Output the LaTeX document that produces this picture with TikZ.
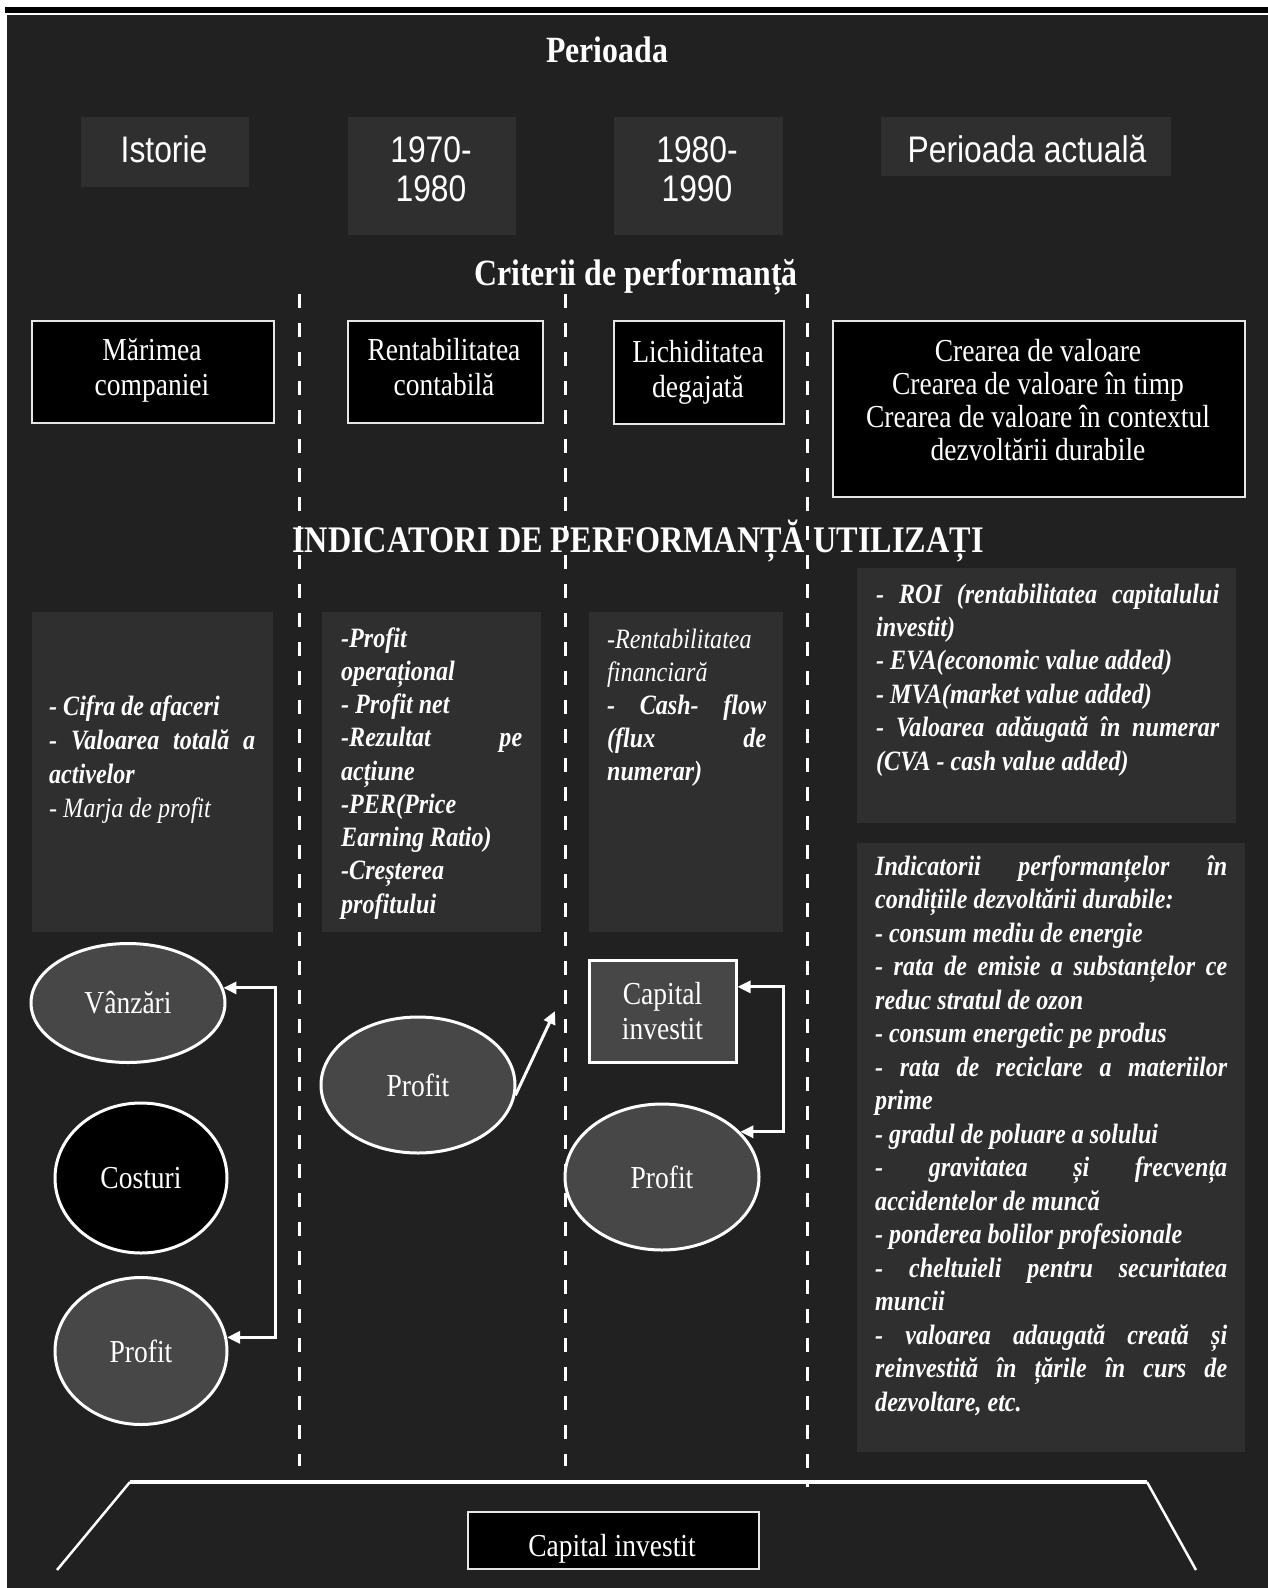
\documentclass[tikz,border=0pt]{standalone}
\usepackage{fontspec}
\usetikzlibrary{shapes.geometric,arrows.meta,calc}
\newfontfamily\srf[FakeStretch=0.86]{Liberation Serif}
\newfontfamily\sns[FakeStretch=0.86]{Liberation Sans}
\definecolor{bg}{HTML}{212121}
\definecolor{panel}{HTML}{2F2F2F}
\definecolor{ellc}{HTML}{474747}
\definecolor{bord}{HTML}{E6E6E6}
\newcommand\fs[2]{\fontsize{#1}{#2}\selectfont}
\newcommand\Ls[1]{\makebox[\linewidth][s]{#1}}
\newcommand\Ll[1]{\makebox[\linewidth][l]{#1}}
\begin{document}
\begin{tikzpicture}[x=1pt,y=-1pt,
  pbox/.style={fill=panel, inner sep=0pt, anchor=north west},
  ptxt/.style={text=white, font=\sns\fs{37}{39}, inner sep=0pt, anchor=base},
  ttl/.style={text=white, font=\srf\bfseries\fs{37}{40}, inner sep=0pt, anchor=base},
  critbox/.style={fill=black, draw=bord, line width=2pt, inner sep=0pt, anchor=north west},
  crtxt/.style={text=white, font=\srf\fs{32}{35}, inner sep=0pt, anchor=base},
  itx/.style={text=white, font=\srf\bfseries\itshape\fs{28}{33.4}, inner sep=0pt, anchor=base west},
  ellnode/.style={ellipse, draw=white, line width=3pt, fill=ellc, text=white, font=\srf\fs{32}{35}, inner sep=0pt},
  arr/.style={draw=white, line width=3pt, {Triangle[length=13pt,width=12pt]}-{Triangle[length=13pt,width=12pt]}},
  arrone/.style={draw=white, line width=3pt, -{Triangle[length=13pt,width=12pt]}},
  vdash/.style={draw=white, line width=3pt, dash pattern=on 14pt off 15pt},
]
\useasboundingbox (0,0) rectangle (1268,1588);
\fill[white] (0,0) rectangle (1268,1588);
\fill[black] (5,7) rectangle (1268,13);
\fill[bg] (7,15) rectangle (1268,1588);

% titles
\node[ttl] (tper) at (607,62) {Perioada};
\node[ttl] (tcrit) at (636,285) {Criterii de performanță};

% period boxes
\node[pbox, minimum width=168pt, minimum height=70pt] (hist) at (81,117) {};
\node[pbox, minimum width=168pt, minimum height=118pt] (p70) at (348,117) {};
\node[pbox, minimum width=169pt, minimum height=118pt] (p80) at (614,117) {};
\node[pbox, minimum width=290pt, minimum height=59pt] (pact) at (881,117) {};
\node[ptxt] (histT) at (164,162) {Istorie};
\node[ptxt] (p70T) at (431,162) {\parbox[t]{150pt}{\centering 1970-\\1980}};
\node[ptxt] (p80T) at (697,162) {\parbox[t]{150pt}{\centering 1980-\\1990}};
\node[ptxt] (pactT) at (1027,162) {Perioada actuală};

% dashed separators
\coordinate (d1t) at (299,294); \coordinate (d1b) at (299,1466);
\coordinate (d2t) at (565,294); \coordinate (d2b) at (565,1466);
\coordinate (d3t) at (807,294); \coordinate (d3b) at (807,1487);
\draw[vdash] (d1t) -- (d1b);
\draw[vdash] (d2t) -- (d2b);
\draw[vdash] (d3t) -- (d3b);

% criteria boxes
\node[critbox, minimum width=242pt, minimum height=102pt] (mar) at (31,320) {};
\node[critbox, minimum width=195pt, minimum height=102pt] (rent) at (347,320) {};
\node[critbox, minimum width=170pt, minimum height=103pt] (lich) at (613,320) {};
\node[critbox, minimum width=412pt, minimum height=176pt] (crea) at (832,320) {};
\node[crtxt] (marT) at (152,360) {\parbox[t]{230pt}{\centering Mărimea\\companiei}};
\node[crtxt] (rentT) at (444,360) {\parbox[t]{190pt}{\centering Rentabilitatea\\contabilă}};
\node[crtxt] (lichT) at (698,362) {\parbox[t]{165pt}{\centering Lichiditatea\\degajată}};
\node[crtxt, font=\srf\fs{32}{33.2}] (creaT) at (1038,361) {\parbox[t]{400pt}{\centering Crearea de valoare\\Crearea de valoare în timp\\Crearea de valoare în contextul\\dezvoltării durabile}};

\node[ttl, font=\srf\bfseries\fs{37.5}{40}] (tind) at (638,552) {INDICATORI DE PERFORMANȚĂ UTILIZAȚI};

% indicator panels
\node[pbox, minimum width=241pt, minimum height=320pt] (pa) at (32,612) {};
\node[pbox, minimum width=219pt, minimum height=320pt] (pb) at (322,612) {};
\node[pbox, minimum width=194pt, minimum height=320pt] (pc) at (589,612) {};
\node[pbox, minimum width=379pt, minimum height=255pt] (pd) at (857,568) {};
\node[pbox, minimum width=388pt, minimum height=609pt] (pe) at (857,843) {};

\node[itx, font=\srf\bfseries\itshape\fs{28}{34.3}] (paT) at (49,715) {\parbox[t]{206pt}{%
\Ll{- Cifra de afaceri}\\
\Ls{- Valoarea totală a}\\
\Ll{activelor}\\
\Ll{\mdseries - Marja de profit}}};

\node[itx, font=\srf\bfseries\itshape\fs{28}{33.25}] (pbT) at (341,647) {\parbox[t]{181pt}{%
\Ll{-Profit}\\
\Ll{operațional}\\
\Ll{- Profit net}\\
\Ls{-Rezultat pe}\\
\Ll{acțiune}\\
\Ll{-PER(Price}\\
\Ll{Earning Ratio)}\\
\Ll{-Creșterea}\\
\Ll{profitului}}};

\node[itx, font=\srf\bfseries\itshape\fs{28}{33}] (pcT) at (607,648) {\parbox[t]{159pt}{%
\Ll{\mdseries -Rentabilitatea}\\
\Ll{\mdseries financiară}\\
\Ls{- Cash- flow}\\
\Ls{(flux de}\\
\Ll{numerar)}}};

\node[itx] (pdT) at (876,603) {\parbox[t]{343pt}{%
\Ls{- ROI (rentabilitatea capitalului}\\
\Ll{investit)}\\
\Ll{- EVA(economic value added)}\\
\Ll{- MVA(market value added)}\\
\Ls{- Valoarea adăugată în numerar}\\
\Ll{(CVA - cash value added)}}};

\node[itx, font=\srf\bfseries\itshape\fs{28}{33.5}] (peT) at (875,875) {\parbox[t]{352pt}{%
\Ls{Indicatorii performanțelor în}\\
\Ll{condițiile dezvoltării durabile:}\\
\Ll{- consum mediu de energie}\\
\Ls{- rata de emisie a substanțelor ce}\\
\Ll{reduc stratul de ozon}\\
\Ll{- consum energetic pe produs}\\
\Ls{- rata de reciclare a materiilor}\\
\Ll{prime}\\
\Ll{- gradul de poluare a solului}\\
\Ls{- gravitatea și frecvența}\\
\Ll{accidentelor de muncă}\\
\Ll{- ponderea bolilor profesionale}\\
\Ls{- cheltuieli pentru securitatea}\\
\Ll{muncii}\\
\Ls{- valoarea adaugată creată și}\\
\Ls{reinvestită în țările în curs de}\\
\Ll{dezvoltare, etc.}}};

% column 1 ellipses
\node[ellnode, minimum width=194pt, minimum height=119pt] (vanz) at (128,1003) {Vânzări};
\node[ellnode, fill=black, minimum width=172pt, minimum height=150pt] (cost) at (141,1178) {Costuri};
\node[ellnode, minimum width=172pt, minimum height=147pt] (prof1) at (141,1351) {Profit};
\coordinate (bx1) at (275,0);
\draw[arr] (vanz.9) -- (vanz.9 -| bx1) -- (prof1.9 -| bx1) -- (prof1.9);

% column 2
\node[ellnode, minimum width=194pt, minimum height=136pt] (prof2) at (418,1085) {Profit};
\coordinate (tip2) at (555,1011);
\draw[arrone] (prof2.-6) -- (tip2);

% column 3
\node[ellnode, rectangle, minimum width=147pt, minimum height=102pt, align=center, font=\srf\fs{32}{35}] (capr) at (662.5,1011) {Capital\\investit};
\node[ellnode, minimum width=194pt, minimum height=146pt] (prof3) at (662,1177) {Profit};
\coordinate (bx3) at (783,0);
\coordinate (capin) at ($(capr.north east)!0.27!(capr.south east)$);
\draw[arr] (capin) -- (capin -| bx3) -- (prof3.30 -| bx3) -- (prof3.30);

% bottom trapezoid
\coordinate (tl) at (130,1482); \coordinate (tr) at (1147,1482);
\coordinate (bl) at (57,1570); \coordinate (br) at (1196,1570);
\draw[white, line width=2.5pt] (bl) -- (tl);
\draw[white, line width=2.5pt] (tr) -- (br);
\draw[white, line width=4.5pt] (tl) -- (tr);
\node[critbox, minimum width=291pt, minimum height=57pt] (capb) at (467,1511) {};
\node[crtxt] (capbT) at (612,1556) {Capital investit};
\end{tikzpicture}
\end{document}
